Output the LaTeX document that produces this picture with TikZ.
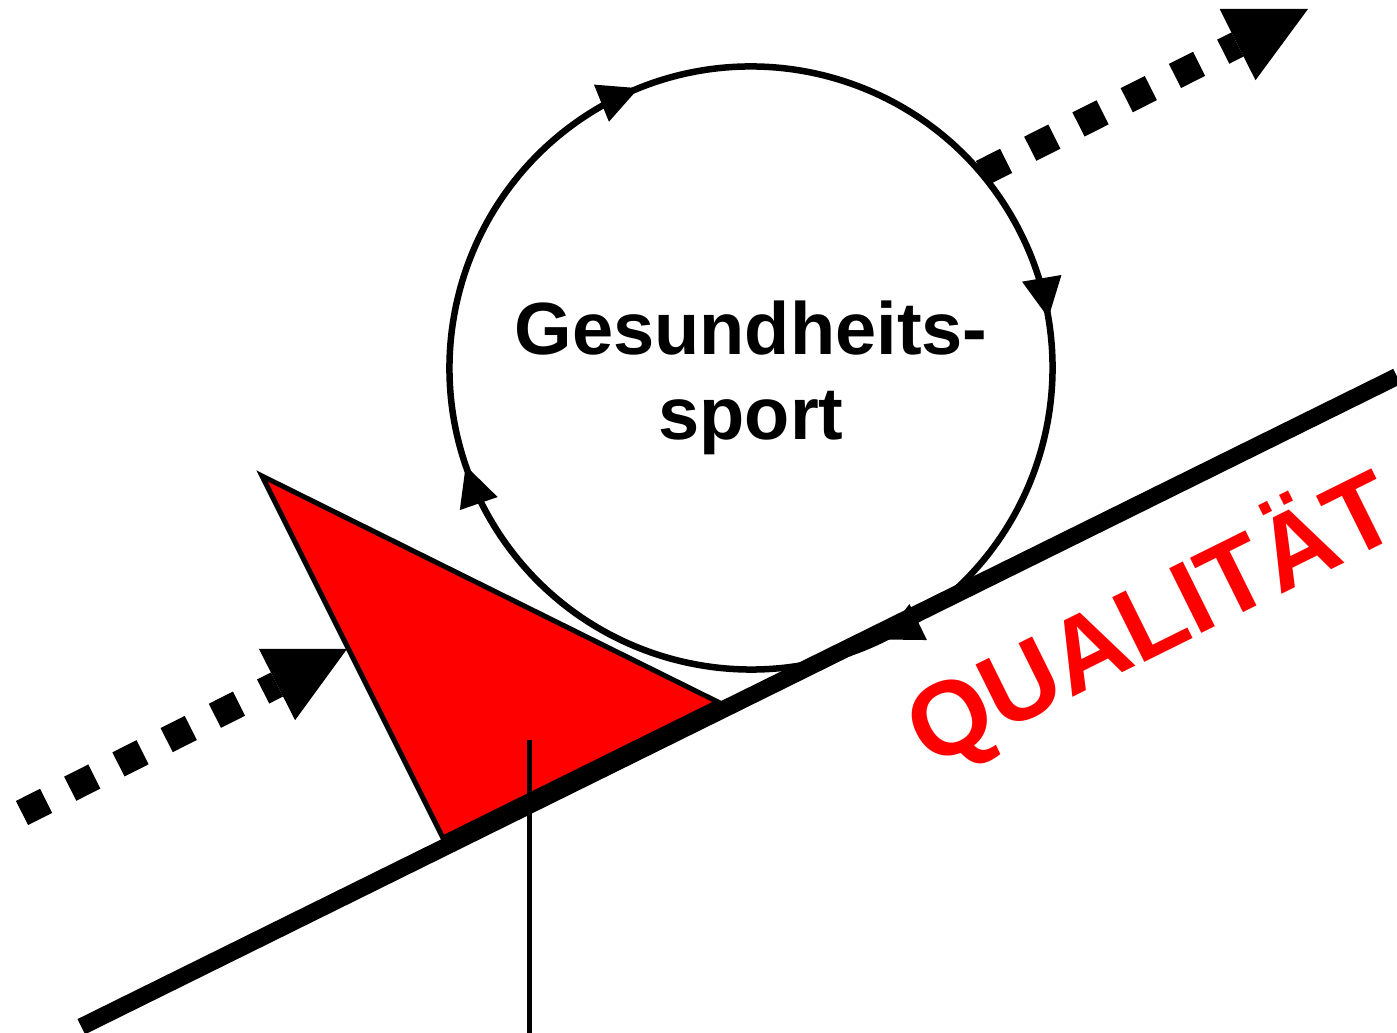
\documentclass[tikz,border=0pt]{standalone}
\usepackage{fontspec}
\setmainfont{Liberation Sans}
\usetikzlibrary{calc,decorations.markings}
\newcommand\cyctip{\fill (0pt,0pt) -- (-40pt,20pt) -- (-40pt,-20pt) -- cycle;}
\tikzset{
  thickline/.style={line width=17pt},
  redtri/.style={fill=red, draw=black, line width=5pt, line join=miter},
  pointer/.style={line width=5pt},
  cycline/.style={line width=6.5pt,
    decoration={markings,
      mark=at position 0.0225 with {\cyctip},
      mark=at position 0.3067 with {\cyctip},
      mark=at position 0.5117 with {\cyctip},
      mark=at position 0.7808 with {\cyctip}},
    postaction=decorate},
  dotshaft/.style={line width=27pt, dash pattern=on 27pt off 27pt},
  bighead/.style={fill=black},
  centretext/.style={font=\fontsize{74}{85}\selectfont\bfseries, align=center, inner sep=0pt},
  qualtext/.style={font=\fontsize{105}{120}\selectfont\bfseries, text=red, inner sep=0pt}
}
\begin{document}
\begin{tikzpicture}[x=1pt,y=1pt]
\useasboundingbox (0,0) rectangle (1397,1033);
% red wedge
\coordinate (tA) at (262,557);
\coordinate (tB) at (718,331);
\coordinate (tC) at (443,195);
\draw[redtri] (tA) -- (tB) -- (tC) -- cycle;
% inclined base line
\coordinate (lineL) at (81.3,6.3);
\coordinate (lineR) at (1397,656.5);
\draw[thickline] (lineL) -- (lineR);
% vertical pointer
\coordinate (vTop) at (529,293);
\coordinate (vBot) at (529,0);
\draw[pointer] (vTop) -- (vBot);
% circle with clockwise arrows
\coordinate (C) at (751,665);
\draw[cycline] ($(C)+(120:301.5)$) arc[start angle=120, end angle=-240, radius=301.5];
% lower dotted arrow
\coordinate (inS) at (22,220);
\coordinate (inB) at (277,348.5);
\coordinate (inT) at (347,384);
\draw[dotshaft] (inS) -- (inB);
\fill[bighead] ($(inB)!40pt!90:(inT)$) -- (inT) -- ($(inB)!40pt!-90:(inT)$) -- cycle;
% upper dotted arrow
\coordinate (outS) at (982,860);
\coordinate (outB) at (1237.5,988.5);
\coordinate (outT) at (1308,1024);
\draw[dotshaft] (outS) -- (outB);
\fill[bighead] ($(outB)!40pt!90:(outT)$) -- (outT) -- ($(outB)!40pt!-90:(outT)$) -- cycle;
% texts
\node[centretext, anchor=base] (gs) at (751,593) {Gesundheits-\\sport};
\node[qualtext, rotate=26.4, anchor=base] (q) at (1167,382) {QUALITÄT};
\end{tikzpicture}
\end{document}
